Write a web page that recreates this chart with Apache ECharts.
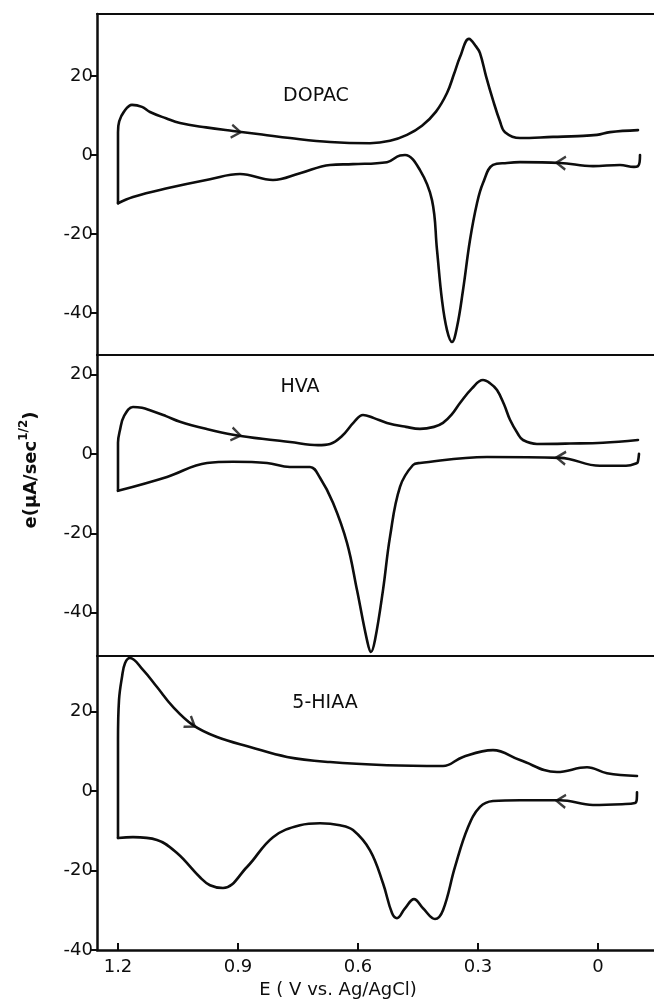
<!DOCTYPE html>
<html><head><meta charset="utf-8">
<script src="https://cdn.jsdelivr.net/npm/echarts@6/dist/echarts.min.js"></script>
<style>html,body{margin:0;padding:0;background:#fff}#c{width:654px;height:1002px}</style>
</head><body><div id="c"></div>
<script>
// ---- data ----
const E_TICKS = [1.2, 0.9, 0.6, 0.3, 0];
const Y_TICKS = [-40, -20, 0, 20];
const panelNames = ['DOPAC', 'HVA', '5-HIAA'];
const xRange = [-0.14, 1.2525];
const yRanges = [[-50.6, 35.7], [-50.9, 24.9], [-40, 34]];
const xName = 'E ( V vs. Ag/AgCl)';

// forward scan (1.2 V -> -0.1 V), [E, e]
const dopacFwd = [[1.2,-12.2],[1.2,-2],[1.2,5.8],[1.197,8.5],[1.185,11],[1.165,12.7],[1.14,12.2],[1.12,10.9],[1.08,9.3],[1.045,8.1],[0.98,7],[0.9125,6.1],[0.84,5.2],[0.77,4.3],[0.67,3.3],[0.57,3.0],[0.52,3.6],[0.4775,5.1],[0.44,7.4],[0.405,11],[0.3775,15.7],[0.36,20.5],[0.345,24.8],[0.3225,29.4],[0.305,27.5],[0.295,25.8],[0.28,20],[0.2625,13.9],[0.245,8.5],[0.2325,5.8],[0.195,4.3],[0.1125,4.6],[0.05,4.8],[0.0025,5.1],[-0.03,5.8],[-0.1,6.3]];
// reverse scan (-0.1 V -> 1.2 V)
const dopacRev = [[-0.105,0],[-0.104,-1.8],[-0.1,-2.8],[-0.09,-3],[-0.055,-2.5],[0.0125,-2.8],[0.095,-2.0],[0.195,-1.8],[0.2275,-2.0],[0.2625,-2.5],[0.2875,-7.1],[0.3025,-12.2],[0.32,-21.5],[0.3375,-34.2],[0.3525,-43.5],[0.365,-47.3],[0.3775,-44.3],[0.39,-36.7],[0.4025,-24],[0.415,-11.4],[0.445,-3.8],[0.4825,0],[0.495,-0.1],[0.5275,-1.8],[0.6125,-2.3],[0.67,-2.5],[0.745,-4.6],[0.8125,-6.3],[0.895,-4.8],[0.97,-6.1],[1.0775,-8.4],[1.1625,-10.6],[1.2,-12.2]];

const hvaFwd = [[1.2,-9.3],[1.2,-2],[1.2,2.8],[1.195,6],[1.185,9.5],[1.1625,11.8],[1.14,11.6],[1.12,11],[1.08,9.5],[1.045,8.1],[0.98,6.3],[0.9125,4.8],[0.84,3.8],[0.77,3.0],[0.7,2.2],[0.67,2.5],[0.64,4.5],[0.61,8],[0.5875,9.8],[0.56,9],[0.5275,7.8],[0.48,6.8],[0.445,6.3],[0.41,6.8],[0.3875,7.8],[0.365,10],[0.345,12.8],[0.315,16.5],[0.2875,18.6],[0.27,17.8],[0.2525,16.1],[0.235,12.5],[0.22,8.6],[0.2,5],[0.1875,3.5],[0.1525,2.5],[0.07,2.6],[-0.0125,2.8],[-0.1,3.5]];
const hvaRev = [[-0.1025,0],[-0.1,-1.8],[-0.0975,-2.3],[-0.07,-3],[-0.005,-3.0],[0.095,-1.0],[0.2775,-0.8],[0.445,-2.3],[0.4625,-2.8],[0.495,-8.3],[0.52,-20.9],[0.5375,-34.3],[0.5575,-46.9],[0.5675,-49.9],[0.5775,-46.9],[0.6025,-34.3],[0.6275,-22.4],[0.6625,-12.3],[0.695,-6.0],[0.72,-3.3],[0.77,-3.3],[0.8275,-2.3],[0.9125,-2],[0.9775,-2.3],[1.0775,-5.8],[1.2,-9.3]];

const hiaaFwd = [[1.2,-11.8],[1.2,0],[1.2,12.8],[1.1975,22.9],[1.19,28.7],[1.1825,32.2],[1.17,33.5],[1.1375,30.5],[1.1025,26.2],[1.0625,21.2],[1.0125,16.6],[0.9525,13.6],[0.87,11.1],[0.7775,8.6],[0.67,7.3],[0.5275,6.5],[0.3875,6.3],[0.3375,8.6],[0.2625,10.3],[0.195,7.8],[0.1025,4.8],[0.0275,6],[-0.0225,4.5],[-0.0975,3.8]];
const hiaaRev = [[-0.0975,-0.3],[-0.097,-2.0],[-0.0925,-3],[-0.06,-3.3],[0.0125,-3.5],[0.095,-2.3],[0.195,-2.3],[0.2625,-2.5],[0.295,-4],[0.325,-9.1],[0.3575,-19.1],[0.3875,-30],[0.4075,-32.2],[0.4375,-29.5],[0.46,-27.2],[0.4825,-29.5],[0.5025,-32],[0.515,-30.7],[0.5375,-23.2],[0.57,-14.9],[0.6125,-9.8],[0.645,-8.6],[0.695,-8.1],[0.745,-8.6],[0.8125,-11.6],[0.8775,-19.1],[0.9375,-24.4],[0.97,-23.7],[0.995,-21.7],[1.0525,-15.6],[1.1025,-12.3],[1.1625,-11.6],[1.2,-11.8]];

// scan-direction arrows: [E, e] on the forward and reverse traces
const dopacArrows = {fwd: [0.905, 5.9], rev: [0.0925, -2.0]};
const hvaArrows = {fwd: [0.905, 4.8], rev: [0.0925, -1.0]};
const hiaaArrows = {fwd: [1.0175, 16.9], rev: [0.0925, -2.5]};

// ---- layout ----
const FONT = 'DejaVu Sans';
const INK = '#0d0d0d';
const panels = [
  {fwd: dopacFwd, rev: dopacRev, arrows: dopacArrows, top: 14, height: 341},
  {fwd: hvaFwd, rev: hvaRev, arrows: hvaArrows, top: 355, height: 301},
  {fwd: hiaaFwd, rev: hiaaRev, arrows: hiaaArrows, top: 656, height: 294}
];
const labelPos = [[316, 96], [300, 387], [325, 703]];

const chart = echarts.init(document.getElementById('c'), null, {renderer: 'canvas'});
const grid = [], xAxis = [], yAxis = [], series = [];
const ARROW = 'path://M0,0L10,6L0,12';

panels.forEach((p, i) => {
  grid.push({left: 97, right: 0, top: p.top, height: p.height, containLabel: false});
  xAxis.push({
    type: 'value', gridIndex: i, position: 'top', inverse: true,
    min: xRange[0], max: xRange[1],
    axisLine: {show: true, onZero: false, lineStyle: {color: INK, width: 2.2}},
    axisTick: {show: false}, axisLabel: {show: false}, splitLine: {show: false}
  });
  yAxis.push({
    type: 'value', gridIndex: i, min: yRanges[i][0], max: yRanges[i][1],
    axisLine: {show: true, onZero: false, lineStyle: {color: INK, width: 2.5}},
    axisTick: {show: true, inside: false, length: 7, customValues: Y_TICKS, lineStyle: {color: INK, width: 2}},
    axisLabel: {show: true, customValues: Y_TICKS, margin: 4, color: INK, fontFamily: FONT, fontSize: 18},
    splitLine: {show: false}
  });
  const lineStyle = {color: INK, width: 2.6, cap: 'round', join: 'round'};
  series.push({type: 'line', xAxisIndex: i, yAxisIndex: i, data: p.fwd, smooth: 0.4, showSymbol: false, lineStyle, silent: true});
  series.push({type: 'line', xAxisIndex: i, yAxisIndex: i, data: p.rev, smooth: 0.4, showSymbol: false, lineStyle, silent: true});
  series.push({
    type: 'scatter', xAxisIndex: i, yAxisIndex: i, symbol: ARROW, symbolSize: [11, 13], symbolKeepAspect: true,
    data: [{value: p.arrows.fwd, symbolRotate: 0}, {value: p.arrows.rev, symbolRotate: 180}],
    itemStyle: {color: 'rgba(0,0,0,0)', borderColor: INK, borderWidth: 2.4}, silent: true, z: 5
  });
});
// bottom axis with ticks and labels
xAxis.push({
  type: 'value', gridIndex: 2, position: 'bottom', inverse: true,
  min: xRange[0], max: xRange[1],
  axisLine: {show: true, onZero: false, lineStyle: {color: INK, width: 2.5}},
  axisTick: {show: true, inside: true, length: 7, customValues: E_TICKS, lineStyle: {color: INK, width: 2}},
  axisLabel: {show: true, customValues: E_TICKS, margin: 8, color: INK, fontFamily: FONT, fontSize: 18,
    formatter: v => String(v)},
  splitLine: {show: false}
});

const graphic = panelNames.map((t, i) => ({
  type: 'text', x: labelPos[i][0], y: labelPos[i][1],
  style: {text: t, fill: INK, font: '19px "' + FONT + '"', align: 'center', verticalAlign: 'middle'}
}));
graphic.push({
  type: 'text', x: 338, y: 990,
  style: {text: xName, fill: INK, font: '18px "' + FONT + '"', align: 'center', verticalAlign: 'middle'}
});
graphic.push({
  type: 'text', x: 29, y: 470, rotation: Math.PI / 2,
  style: {
    text: '{a|e(μA/sec}{s|1/2}{a|)}', align: 'center', verticalAlign: 'middle',
    rich: {
      a: {fill: INK, fontFamily: FONT, fontSize: 18, fontWeight: 'bold', lineHeight: 22, verticalAlign: 'bottom'},
      s: {fill: INK, fontFamily: FONT, fontSize: 12, fontWeight: 'bold', lineHeight: 22, verticalAlign: 'top'}
    }
  }
});

chart.setOption({
  animation: false, backgroundColor: '#fff',
  grid, xAxis, yAxis, series, graphic
});

// orient each arrow along its trace using the chart's own scales
function angleAt(curve, pt, gi) {
  let best = 0, bd = Infinity;
  for (let k = 0; k < curve.length - 1; k++) {
    const d = Math.abs(curve[k][0] - pt[0]) + Math.abs(curve[k][1] - pt[1]) / 20;
    if (d < bd) { bd = d; best = k; }
  }
  const a = chart.convertToPixel({gridIndex: gi}, curve[Math.max(0, best - 1)]);
  const b = chart.convertToPixel({gridIndex: gi}, curve[Math.min(curve.length - 1, best + 1)]);
  return -Math.atan2(b[1] - a[1], b[0] - a[0]) * 180 / Math.PI;
}
const upd = series.map(s => ({}));
panels.forEach((p, i) => {
  upd[i * 3 + 2] = {data: [
    {value: p.arrows.fwd, symbolRotate: angleAt(p.fwd, p.arrows.fwd, i)},
    {value: p.arrows.rev, symbolRotate: angleAt(p.rev, p.arrows.rev, i)}
  ]};
});
chart.setOption({series: upd});
</script></body></html>
